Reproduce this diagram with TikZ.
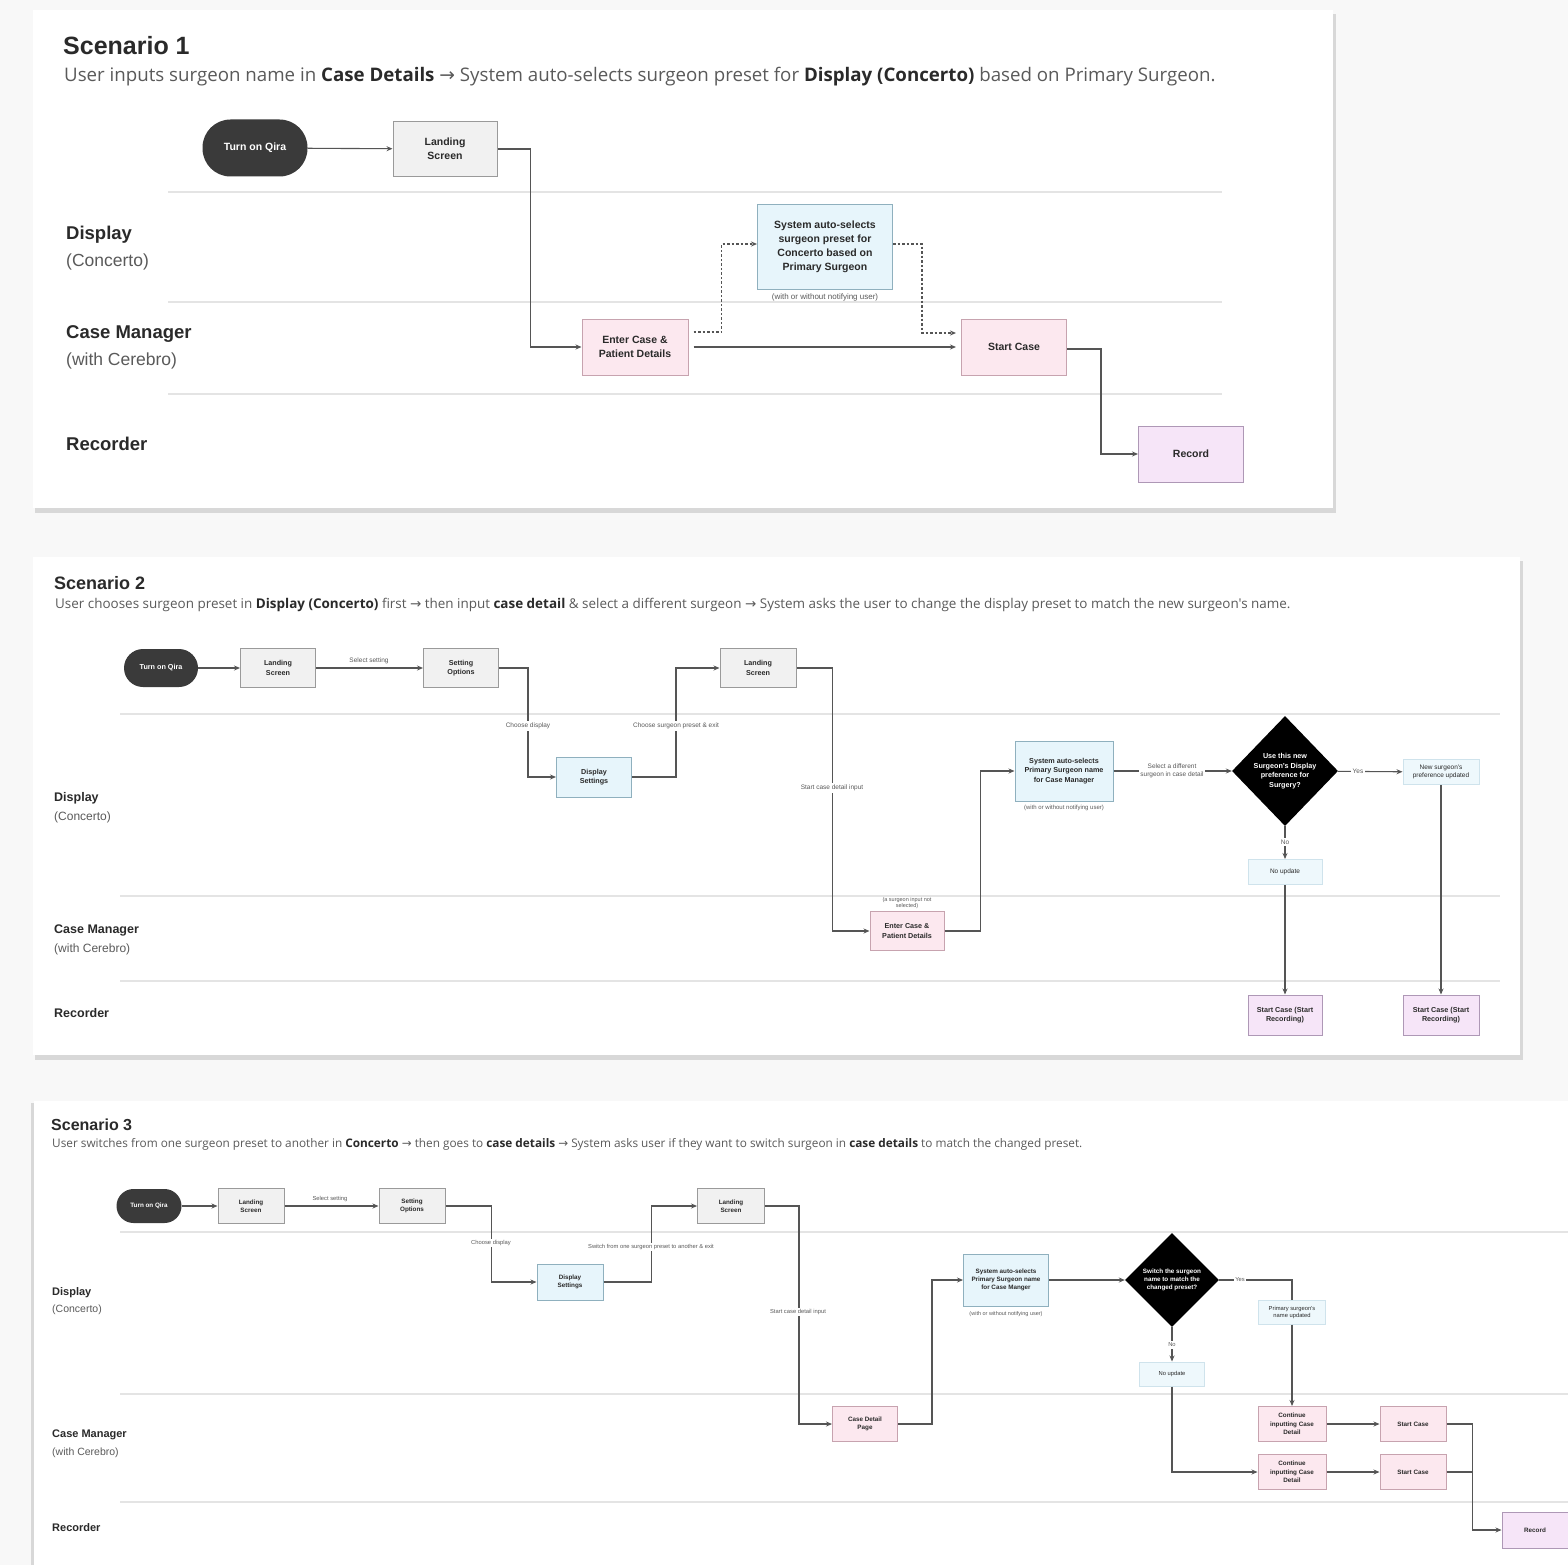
\documentclass[tikz,border=0pt]{standalone}
\usepackage{fontspec}
\setmainfont{Liberation Sans}
\newfontfamily\subfont{Open Sans}
\newfontfamily\arrfont{DejaVu Sans}
\newcommand{\rarr}{{\arrfont →}}
\usetikzlibrary{shapes.geometric,arrows.meta}
\definecolor{bgc}{HTML}{F8F8F8}
\definecolor{shad}{HTML}{D8D8D8}
\definecolor{lanec}{HTML}{E4E4E4}
\definecolor{linec}{HTML}{555555}
\definecolor{gfill}{HTML}{F1F1F1}
\definecolor{gline}{HTML}{9A9A9A}
\definecolor{bfill}{HTML}{E7F5FB}
\definecolor{bline}{HTML}{8FB0BE}
\definecolor{pfill}{HTML}{FCE8EF}
\definecolor{pline}{HTML}{C7A3AF}
\definecolor{lfill}{HTML}{F6E5F8}
\definecolor{lline}{HTML}{AE98B6}
\definecolor{pillc}{HTML}{3A3A3A}
\definecolor{txt}{HTML}{2A2A2A}
\definecolor{subt}{HTML}{5A5A5A}
\definecolor{lightb}{HTML}{CFE3EC}
\tikzset{
  nb/.style={draw, inner sep=0pt, align=center, line width=1pt, text=txt},
  greybox/.style={nb, fill=gfill, draw=gline},
  bluebox/.style={nb, fill=bfill, draw=bline},
  pinkbox/.style={nb, fill=pfill, draw=pline},
  lavbox/.style={nb, fill=lfill, draw=lline},
  softbox/.style={nb, fill=bfill!70!white, draw=lightb},
  pill/.style={inner sep=0pt, align=center, fill=pillc, text=white},
  dia/.style={diamond, fill=black, text=white, inner sep=0pt, align=center},
  sz/.style 2 args={minimum width=#1pt, minimum height=#2pt},
  conn/.style={draw=linec, line width=1.1pt, -{Stealth[length=6pt,width=5pt]}},
  plainconn/.style={draw=linec, line width=1.1pt},
  dconn/.style={conn, dashed, dash pattern=on 2.5pt off 2pt},
  lane/.style={draw=lanec, line width=1.6pt},
  lbl/.style={fill=white, inner sep=1.5pt, align=center, text=subt},
  fa/.style={font=\fontsize{10.5}{14}\selectfont\bfseries},
  fb/.style={font=\fontsize{7.2}{9.5}\selectfont\bfseries},
  fc/.style={font=\fontsize{6.3}{8.3}\selectfont\bfseries},
  lanehead/.style={anchor=base west, inner sep=0pt, text=txt, font=\bfseries},
  lanesub/.style={anchor=base west, inner sep=0pt, text=subt},
  titl/.style={anchor=base west, inner sep=0pt, text=txt},
  subtl/.style={anchor=base west, inner sep=0pt, text=subt},
}
\begin{document}
\begin{tikzpicture}[x=1pt,y=-1pt]
\useasboundingbox (0,0) rectangle (1568,1565);
\fill[bgc] (0,0) rectangle (1568,1565);
% cards
\fill[shad] (35,14) rectangle (1336,513);
\fill[white] (33,10) rectangle (1333,508);
\fill[shad] (35,561) rectangle (1523,1060);
\fill[white] (33,557) rectangle (1520,1055);
\fill[shad] (31,1103) rectangle (1568,1565);
\fill[white] (34,1101) rectangle (1568,1565);

%================ SCENARIO 1 =================
\node[titl, font=\fontsize{25}{30}\selectfont\bfseries] (t1) at (63,55) {Scenario 1};
\node[subtl, font=\subfont\fontsize{18.7}{22}\selectfont] (st1) at (64,82)
  {User inputs surgeon name in \textcolor{txt}{\textbf{Case Details}} \rarr{} System auto-selects surgeon preset for \textcolor{txt}{\textbf{Display (Concerto)}} based on Primary Surgeon.};
\draw[lane] (168,192) -- (1222,192);
\draw[lane] (168,302) -- (1222,302);
\draw[lane] (168,394) -- (1222,394);
\node[lanehead, font=\fontsize{18.5}{22}\selectfont\bfseries] (l1a) at (66,239) {Display};
\node[lanesub, font=\fontsize{17.5}{22}\selectfont] (l1b) at (66,266) {(Concerto)};
\node[lanehead, font=\fontsize{18.5}{22}\selectfont\bfseries] (l1c) at (66,338) {Case Manager};
\node[lanesub, font=\fontsize{17.5}{22}\selectfont] (l1d) at (66,365) {(with Cerebro)};
\node[lanehead, font=\fontsize{18.5}{22}\selectfont\bfseries] (l1e) at (66,450) {Recorder};

\node[pill, sz={105}{57}, rounded corners=28pt, fa] (s1on) at (255,148) {Turn on Qira};
\node[greybox, sz={104}{55}, fa] (s1land) at (445,149) {Landing\\Screen};
\node[bluebox, sz={135}{85}, fa] (s1sys) at (825,247) {System auto-selects\\surgeon preset for\\Concerto based on\\Primary Surgeon};
\node[lbl, inner sep=0.5pt, font=\fontsize{8}{9}\selectfont] (s1note) at (825,297) {(with or without notifying user)};
\node[pinkbox, sz={106}{56}, fa] (s1enter) at (635,347) {Enter Case \&\\Patient Details};
\node[pinkbox, sz={105}{56}, fa] (s1start) at (1014,347) {Start Case};
\node[lavbox, sz={105}{56}, fa] (s1rec) at (1191,454) {Record};

\draw[conn] (s1on) -- (s1land);
\draw[conn] (s1land.east) -- ++(33,0) |- (s1enter.west);
\draw[conn, shorten <=5pt, shorten >=5pt] (s1enter) -- (s1start);
\draw[dconn] ([yshift=15pt]s1enter.east) ++(5,0) -- ++(28,0) |- ([yshift=3pt]s1sys.west);
\draw[dconn] ([yshift=3pt]s1sys.east) -- ++(29,0) |- ([xshift=-5pt,yshift=14pt]s1start.west);
\draw[conn] ([yshift=-2pt]s1start.east) -- ++(34,0) |- (s1rec.west);

%================ SCENARIO 2 =================
\node[titl, font=\fontsize{18}{22}\selectfont\bfseries] (t2) at (54,589) {Scenario 2};
\node[subtl, font=\subfont\fontsize{13.45}{15}\selectfont] (st2) at (55,608)
  {User chooses surgeon preset in \textcolor{txt}{\textbf{Display (Concerto)}} first \rarr{} then input \textcolor{txt}{\textbf{case detail}} \& select a different surgeon \rarr{} System asks the user to change the display preset to match the new surgeon's name.};
\draw[lane] (120,714) -- (1500,714);
\draw[lane] (120,896) -- (1500,896);
\draw[lane] (120,981) -- (1500,981);
\node[lanehead, font=\fontsize{12.5}{15}\selectfont\bfseries] (l2a) at (54,801) {Display};
\node[lanesub, font=\fontsize{12}{15}\selectfont] (l2b) at (54,820) {(Concerto)};
\node[lanehead, font=\fontsize{12.5}{15}\selectfont\bfseries] (l2c) at (54,933) {Case Manager};
\node[lanesub, font=\fontsize{12}{15}\selectfont] (l2d) at (54,952) {(with Cerebro)};
\node[lanehead, font=\fontsize{12.5}{15}\selectfont\bfseries] (l2e) at (54,1017) {Recorder};

\node[pill, sz={74}{38}, rounded corners=19pt, fb] (s2on) at (161,668) {Turn on Qira};
\node[greybox, sz={75}{39}, fb] (s2land1) at (278,668) {Landing\\Screen};
\node[greybox, sz={75}{39}, fb] (s2set) at (461,668) {Setting\\Options};
\node[bluebox, sz={75}{40}, fb] (s2disp) at (594,777) {Display\\Settings};
\node[greybox, sz={76}{39}, fb] (s2land2) at (758,668) {Landing\\Screen};
\node[pinkbox, sz={74}{39}, fb] (s2enter) at (907,931) {Enter Case \&\\Patient Details};
\node[bluebox, sz={98}{60}, fb] (s2sys) at (1064,771) {System auto-selects\\Primary Surgeon name\\for Case Manager};
\node[dia, sz={106}{110}, fb] (s2dia) at (1285,771) {Use this new\\Surgeon's Display\\preference for\\Surgery?};
\node[softbox, sz={76}{25}, font=\fontsize{6.5}{8}\selectfont] (s2new) at (1441,772) {New surgeon's\\preference updated};
\node[softbox, sz={74}{25}, font=\fontsize{6.5}{8}\selectfont] (s2noup) at (1285,872) {No update};
\node[lavbox, sz={74}{40}, fb] (s2sc1) at (1285,1015) {Start Case (Start\\Recording)};
\node[lavbox, sz={76}{40}, fb] (s2sc2) at (1441,1015) {Start Case (Start\\Recording)};

\draw[conn] (s2on) -- (s2land1);
\draw[conn] (s2land1) -- (s2set);
\draw[conn] (s2set.east) -- ++(29,0) |- (s2disp.west);
\draw[conn] (s2disp.east) -- ++(44,0) |- (s2land2.west);
\draw[conn] (s2land2.east) -- ++(36,0) |- (s2enter.west);
\draw[conn] (s2enter.east) -- ++(36,0) |- (s2sys.west);
\draw[conn] (s2sys) -- (s2dia);
\draw[conn] (s2dia) -- (s2new);
\draw[conn] (s2new) -- (s2sc2);
\draw[conn] (s2dia) -- (s2noup);
\draw[conn] (s2noup) -- (s2sc1);
\node[anchor=south, text=subt, inner sep=1pt, font=\fontsize{6.5}{8}\selectfont] (s2l1) at (369,665) {Select setting};
\node[lbl, font=\fontsize{6.5}{8}\selectfont] (s2l2) at (528,726) {Choose display};
\node[lbl, font=\fontsize{6.5}{8}\selectfont] (s2l3) at (676,726) {Choose surgeon preset \& exit};
\node[lbl, font=\fontsize{6.5}{8}\selectfont] (s2l4) at (832,788) {Start case detail input};
\node[lbl, font=\fontsize{6.5}{7.5}\selectfont] (s2l5) at (1172,771) {Select a different\\surgeon in case detail};
\node[lbl, font=\fontsize{6.5}{8}\selectfont] (s2l6) at (1358,771) {Yes};
\node[lbl, font=\fontsize{6.5}{8}\selectfont] (s2l7) at (1285,842) {No};
\node[text=subt, inner sep=0pt, align=center, font=\fontsize{5.5}{6.5}\selectfont] (s2l8) at (907,903) {(a surgeon input not\\selected)};
\node[text=subt, inner sep=0pt, font=\fontsize{6}{7}\selectfont] (s2note) at (1064,808) {(with or without notifying user)};

%================ SCENARIO 3 =================
\node[titl, font=\fontsize{16}{19}\selectfont\bfseries] (t3) at (51,1130) {Scenario 3};
\node[subtl, font=\subfont\fontsize{11.8}{13}\selectfont] (st3) at (52,1147)
  {User switches from one surgeon preset to another in \textcolor{txt}{\textbf{Concerto}} \rarr{} then goes to \textcolor{txt}{\textbf{case details}} \rarr{} System asks user if they want to switch surgeon in \textcolor{txt}{\textbf{case details}} to match the changed preset.};
\draw[lane] (120,1232) -- (1568,1232);
\draw[lane] (120,1394) -- (1568,1394);
\draw[lane] (120,1502) -- (1568,1502);
\node[lanehead, font=\fontsize{11}{13}\selectfont\bfseries] (l3a) at (52,1295) {Display};
\node[lanesub, font=\fontsize{10.5}{13}\selectfont] (l3b) at (52,1312) {(Concerto)};
\node[lanehead, font=\fontsize{11}{13}\selectfont\bfseries] (l3c) at (52,1437) {Case Manager};
\node[lanesub, font=\fontsize{10.5}{13}\selectfont] (l3d) at (52,1455) {(with Cerebro)};
\node[lanehead, font=\fontsize{11}{13}\selectfont\bfseries] (l3e) at (52,1531) {Recorder};

\node[pill, sz={65}{34}, rounded corners=17pt, fc] (s3on) at (149,1206) {Turn on Qira};
\node[greybox, sz={66}{35}, fc] (s3land1) at (251,1206) {Landing\\Screen};
\node[greybox, sz={66}{35}, fc] (s3set) at (412,1206) {Setting\\Options};
\node[bluebox, sz={66}{36}, fc] (s3disp) at (570,1282) {Display\\Settings};
\node[greybox, sz={67}{35}, fc] (s3land2) at (731,1206) {Landing\\Screen};
\node[pinkbox, sz={65}{35}, fc] (s3case) at (865,1424) {Case Detail\\Page};
\node[bluebox, sz={85}{52}, fc] (s3sys) at (1006,1280) {System auto-selects\\Primary Surgeon name\\for Case Manger};
\node[dia, sz={94}{94}, fc] (s3dia) at (1172,1280) {Switch the surgeon\\name to match the\\changed preset?};
\node[softbox, sz={67}{24}, font=\fontsize{5.8}{7}\selectfont] (s3prim) at (1292,1312) {Primary surgeon's\\name updated};
\node[softbox, sz={65}{24}, font=\fontsize{5.8}{7}\selectfont] (s3noup) at (1172,1374) {No update};
\node[pinkbox, sz={68}{35}, fc] (s3cont1) at (1292,1424) {Continue\\inputting Case\\Detail};
\node[pinkbox, sz={68}{35}, fc] (s3cont2) at (1292,1472) {Continue\\inputting Case\\Detail};
\node[pinkbox, sz={66}{35}, fc] (s3sc1) at (1413,1424) {Start Case};
\node[pinkbox, sz={66}{35}, fc] (s3sc2) at (1413,1472) {Start Case};
\node[lavbox, sz={66}{36}, fc] (s3rec) at (1535,1530) {Record};

\draw[conn] (s3on) -- (s3land1);
\draw[conn] (s3land1) -- (s3set);
\draw[conn] (s3set.east) -- ++(46,0) |- (s3disp.west);
\draw[conn] (s3disp.east) -- ++(48,0) |- (s3land2.west);
\draw[conn] (s3land2.east) -- ++(34,0) |- (s3case.west);
\draw[conn] (s3case.east) -- ++(34,0) |- (s3sys.west);
\draw[conn] (s3sys) -- (s3dia);
\draw[plainconn] (s3dia.east) -| (s3prim.north);
\draw[conn] (s3prim) -- (s3cont1);
\draw[conn] (s3dia) -- (s3noup);
\draw[conn] (s3noup.south) |- (s3cont2.west);
\draw[conn] (s3cont1) -- (s3sc1);
\draw[conn] (s3cont2) -- (s3sc2);
\draw[conn] (s3sc1.east) -- ++(26,0) |- (s3rec.west);
\draw[plainconn] (s3sc2.east) -- ++(26,0);
\node[anchor=south, text=subt, inner sep=1pt, font=\fontsize{5.8}{7}\selectfont] (s3l1) at (330,1203) {Select setting};
\node[lbl, font=\fontsize{5.8}{7}\selectfont] (s3l2) at (491,1243) {Choose display};
\node[lbl, font=\fontsize{5.8}{7}\selectfont] (s3l3) at (651,1247) {Switch from one surgeon preset to another \& exit};
\node[lbl, font=\fontsize{5.8}{7}\selectfont] (s3l4) at (798,1312) {Start case detail input};
\node[lbl, font=\fontsize{5.8}{7}\selectfont] (s3l6) at (1240,1280) {Yes};
\node[lbl, font=\fontsize{5.8}{7}\selectfont] (s3l7) at (1172,1345) {No};
\node[text=subt, inner sep=0pt, font=\fontsize{5.5}{7}\selectfont] (s3note) at (1006,1314) {(with or without notifying user)};
\end{tikzpicture}
\end{document}
